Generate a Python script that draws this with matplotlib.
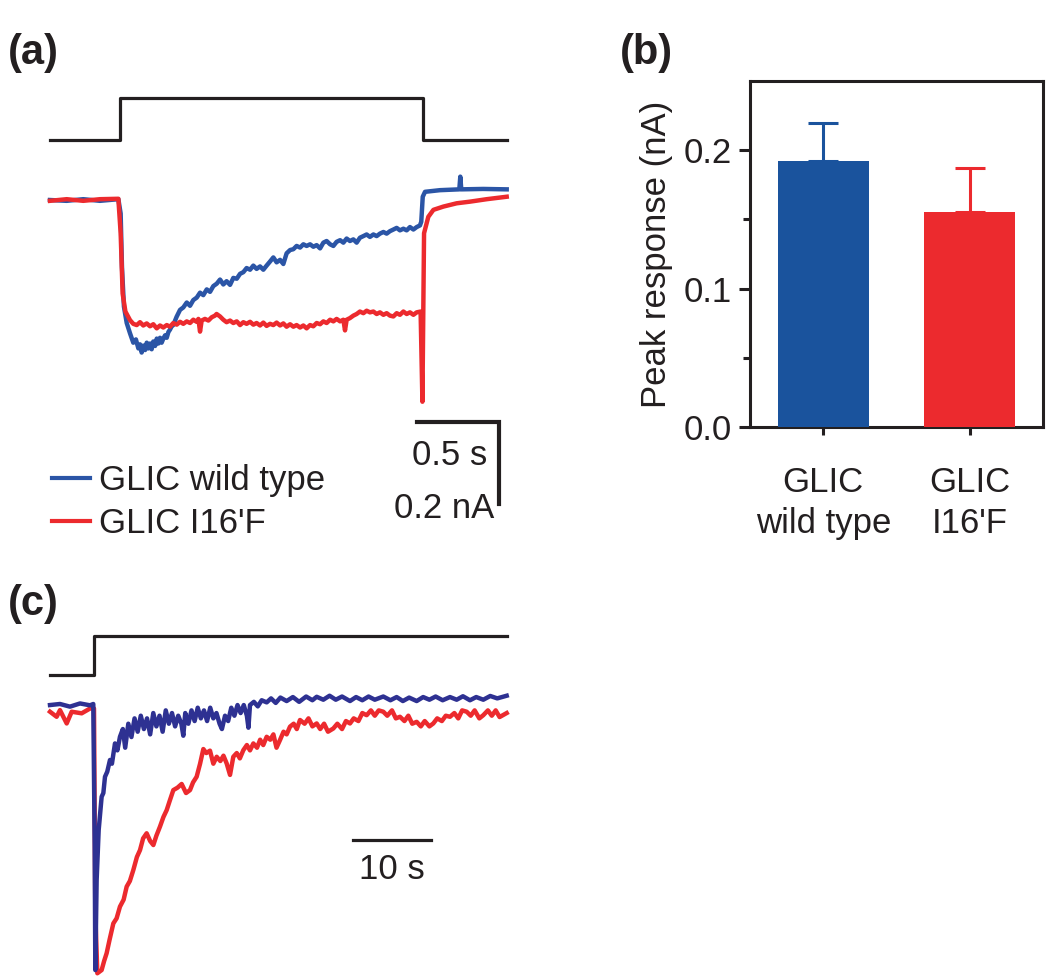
"""
GLIC wild type vs I16'F: current traces, peak bar chart, long application.
"""
import matplotlib
matplotlib.use("Agg")
import matplotlib.pyplot as plt

plt.rcParams['font.family'] = ['Liberation Sans', 'DejaVu Sans']

W, H = 1050, 977
INK = '#231f20'
BLUE_A = '#2b55a6'
BLUE_BAR = '#1a539d'
NAVY = '#2e3192'
RED = '#ec2a2e'
FS = 25

# ---- panel (a): pulse, currents in nA ----
stim_a_t = [-0.427, 0.0, 1.846, 2.358]
stim_a_lvl = [0, 1, 0, 0]

wt_a_t = [-0.427, -0.325, -0.224, -0.122, -0.010, 0.004, 0.012, 0.024, 0.041, 0.061,
          0.081, 0.097, 0.112, 0.122, 0.132, 0.142, 0.153, 0.163, 0.173, 0.183,
          0.193, 0.203, 0.214, 0.224, 0.234, 0.244, 0.254, 0.264, 0.275, 0.285,
          0.295, 0.305, 0.315, 0.325, 0.345, 0.366, 0.386, 0.407, 0.427, 0.447,
          0.468, 0.488, 0.508, 0.529, 0.549, 0.569, 0.590, 0.610, 0.630, 0.650,
          0.671, 0.691, 0.712, 0.732, 0.752, 0.772, 0.793, 0.813, 0.833, 0.854,
          0.874, 0.894, 0.915, 0.935, 0.955, 0.976, 0.996, 1.016, 1.037, 1.057,
          1.077, 1.098, 1.118, 1.138, 1.159, 1.179, 1.199, 1.220, 1.240, 1.260,
          1.281, 1.301, 1.321, 1.342, 1.362, 1.382, 1.402, 1.423, 1.443, 1.463,
          1.484, 1.504, 1.524, 1.545, 1.565, 1.585, 1.606, 1.626, 1.646, 1.667,
          1.687, 1.707, 1.728, 1.748, 1.768, 1.789, 1.809, 1.829, 1.837, 1.846,
          1.860, 1.951, 2.069, 2.075, 2.081, 2.215, 2.358]
wt_a_i = [0.000, -0.002, 0.002, -0.002, 0.002, -0.033, -0.163, -0.260, -0.300, -0.325,
          -0.348, -0.340, -0.362, -0.352, -0.372, -0.355, -0.366, -0.348, -0.362, -0.350,
          -0.364, -0.345, -0.356, -0.338, -0.350, -0.336, -0.348, -0.338, -0.330, -0.336,
          -0.322, -0.316, -0.308, -0.305, -0.285, -0.268, -0.262, -0.250, -0.258, -0.244,
          -0.238, -0.226, -0.232, -0.218, -0.224, -0.210, -0.204, -0.194, -0.206, -0.198,
          -0.207, -0.190, -0.192, -0.180, -0.176, -0.166, -0.170, -0.160, -0.168, -0.162,
          -0.170, -0.160, -0.150, -0.140, -0.152, -0.146, -0.156, -0.130, -0.122, -0.120,
          -0.112, -0.116, -0.108, -0.112, -0.108, -0.114, -0.110, -0.118, -0.104, -0.100,
          -0.108, -0.112, -0.102, -0.098, -0.104, -0.094, -0.100, -0.096, -0.104, -0.092,
          -0.088, -0.084, -0.090, -0.084, -0.088, -0.082, -0.078, -0.082, -0.076, -0.072,
          -0.068, -0.074, -0.070, -0.074, -0.066, -0.072, -0.066, -0.062, -0.053, 0.008,
          0.020, 0.024, 0.026, 0.057, 0.026, 0.027, 0.026]

mut_a_t = [-0.427, -0.325, -0.224, -0.122, -0.010, 0.004, 0.016, 0.033, 0.061, 0.081,
           0.102, 0.122, 0.142, 0.163, 0.183, 0.203, 0.224, 0.244, 0.264, 0.285,
           0.305, 0.325, 0.346, 0.366, 0.386, 0.407, 0.427, 0.447, 0.467, 0.478,
           0.488, 0.498, 0.518, 0.539, 0.559, 0.579, 0.589, 0.610, 0.630, 0.650,
           0.671, 0.691, 0.712, 0.732, 0.752, 0.772, 0.793, 0.813, 0.833, 0.854,
           0.874, 0.894, 0.915, 0.935, 0.955, 0.976, 0.996, 1.016, 1.037, 1.057,
           1.077, 1.098, 1.118, 1.138, 1.159, 1.179, 1.199, 1.220, 1.240, 1.260,
           1.281, 1.301, 1.321, 1.342, 1.362, 1.372, 1.382, 1.402, 1.423, 1.443,
           1.463, 1.484, 1.504, 1.524, 1.545, 1.565, 1.585, 1.606, 1.626, 1.646,
           1.667, 1.687, 1.707, 1.728, 1.748, 1.768, 1.789, 1.809, 1.833, 1.844,
           1.854, 1.880, 1.911, 1.972, 2.053, 2.134, 2.236, 2.358]
mut_a_i = [-0.002, 0.002, -0.002, 0.002, 0.003, -0.081, -0.228, -0.272, -0.293, -0.302,
           -0.305, -0.298, -0.306, -0.301, -0.308, -0.303, -0.313, -0.306, -0.311, -0.305,
           -0.309, -0.300, -0.304, -0.297, -0.302, -0.296, -0.300, -0.292, -0.297, -0.290,
           -0.321, -0.294, -0.290, -0.294, -0.286, -0.282, -0.278, -0.284, -0.292, -0.298,
           -0.294, -0.300, -0.296, -0.305, -0.298, -0.302, -0.297, -0.304, -0.300, -0.306,
           -0.299, -0.307, -0.302, -0.305, -0.299, -0.306, -0.301, -0.309, -0.303, -0.309,
           -0.305, -0.311, -0.306, -0.313, -0.305, -0.308, -0.300, -0.303, -0.296, -0.300,
           -0.292, -0.296, -0.290, -0.296, -0.292, -0.318, -0.292, -0.288, -0.282, -0.278,
           -0.272, -0.276, -0.270, -0.274, -0.272, -0.278, -0.274, -0.280, -0.276, -0.282,
           -0.284, -0.276, -0.280, -0.272, -0.278, -0.274, -0.280, -0.274, -0.272, -0.492,
           -0.081, -0.041, -0.024, -0.016, -0.008, -0.004, 0.002, 0.008]

# ---- panel (b): peak response ----
groups = ['GLIC\nwild type', "GLIC\nI16'F"]
peak_mean = [0.192, 0.155]
peak_sem = [0.0275, 0.032]

# ---- panel (c): long application, normalised current ----
stim_c_t = [-5.64, 0.0, 52.95]
stim_c_lvl = [0, 1, 1]

wt_c_t = [-5.64, -4.36, -3.08, -1.79, -0.51, -0.09, 0.09, 0.17, 0.34, 0.60,
          0.98, 1.20, 1.41, 1.70, 2.05, 2.30, 2.69, 3.00, 3.33, 3.70,
          4.00, 4.40, 4.80, 5.20, 5.60, 6.00, 6.40, 6.80, 7.20, 7.60,
          8.00, 8.40, 8.80, 9.20, 9.60, 10.0, 10.4, 10.8, 11.2, 11.45,
          11.7, 12.1, 12.5, 12.9, 13.3, 13.7, 14.1, 14.5, 14.9, 15.3,
          15.7, 16.1, 16.4, 16.8, 17.2, 17.6, 18.0, 18.4, 18.8, 19.2,
          19.6, 19.8, 20.0, 20.5, 21.0, 21.5, 22.14, 22.7, 23.3, 23.9,
          24.7, 25.5, 26.3, 27.2, 28.0, 28.55, 29.4, 30.2, 31.0, 31.8,
          32.82, 33.6, 34.4, 35.2, 36.0, 37.09, 38.0, 38.8, 39.6, 40.4,
          41.37, 42.2, 43.0, 43.8, 44.7, 45.64, 46.5, 47.3, 48.2, 49.0,
          49.91, 50.8, 51.7, 52.91]
wt_c_i = [0.000, 0.004, -0.006, 0.006, -0.001, 0.004, -0.531, -0.994, -0.656, -0.469,
          -0.344, -0.330, -0.269, -0.250, -0.206, -0.220, -0.144, -0.170, -0.119, -0.090,
          -0.160, -0.070, -0.120, -0.050, -0.100, -0.040, -0.090, -0.050, -0.110, -0.030,
          -0.080, -0.040, -0.100, -0.020, -0.070, -0.030, -0.080, -0.040, -0.070, -0.115,
          -0.030, -0.070, -0.020, -0.060, -0.010, -0.050, -0.020, -0.060, -0.010, -0.050,
          -0.030, -0.070, -0.090, -0.040, -0.060, -0.010, -0.040, 0.000, -0.030, 0.000,
          -0.040, -0.085, 0.000, 0.012, -0.005, 0.018, 0.010, 0.025, 0.008, 0.028,
          0.015, 0.030, 0.012, 0.032, 0.018, 0.031, 0.020, 0.035, 0.020, 0.032,
          0.015, 0.030, 0.018, 0.032, 0.020, 0.032, 0.018, 0.030, 0.015, 0.028,
          0.015, 0.030, 0.020, 0.032, 0.018, 0.030, 0.020, 0.033, 0.018, 0.030,
          0.020, 0.034, 0.025, 0.035]

mut_c_t = [-5.64, -4.79, -4.36, -3.50, -2.86, -1.58, -0.51, 0.00, 0.17, 0.43,
           0.98, 1.30, 1.62, 2.00, 2.48, 2.90, 3.33, 3.80, 4.19, 4.60,
           5.04, 5.50, 5.90, 6.30, 6.75, 7.20, 7.61, 8.00, 8.46, 8.90,
           9.32, 9.70, 10.17, 10.7, 11.24, 11.8, 12.31, 12.7, 13.16, 13.6,
           14.02, 14.4, 14.87, 15.3, 15.73, 16.2, 16.6, 17.01, 17.44, 17.86,
           18.3, 18.7, 19.15, 19.6, 20.0, 20.43, 20.9, 21.3, 21.7, 22.14,
           22.6, 23.0, 23.4, 23.85, 24.3, 24.7, 25.13, 25.6, 26.0, 26.41,
           27.0, 27.5, 28.0, 28.55, 29.0, 29.5, 30.0, 30.68, 31.2, 31.8,
           32.3, 32.82, 33.3, 33.9, 34.4, 34.96, 35.5, 36.0, 36.5, 37.09,
           37.6, 38.2, 38.7, 39.23, 39.8, 40.3, 40.8, 41.37, 41.9, 42.4,
           43.0, 43.5, 44.0, 44.6, 45.1, 45.64, 46.2, 46.7, 47.2, 47.78,
           48.3, 48.8, 49.4, 49.91, 50.5, 51.0, 51.5, 52.0, 52.91]
mut_c_i = [-0.025, -0.044, -0.019, -0.069, -0.025, -0.031, -0.013, -0.013, -0.781, -1.006,
           -0.994, -0.960, -0.931, -0.880, -0.819, -0.800, -0.756, -0.730, -0.681, -0.660,
           -0.619, -0.570, -0.544, -0.500, -0.481, -0.510, -0.525, -0.490, -0.456, -0.420,
           -0.394, -0.360, -0.319, -0.310, -0.296, -0.330, -0.319, -0.290, -0.269, -0.220,
           -0.165, -0.180, -0.171, -0.220, -0.194, -0.210, -0.190, -0.219, -0.262, -0.194,
           -0.180, -0.200, -0.169, -0.150, -0.170, -0.144, -0.160, -0.130, -0.150, -0.119,
           -0.130, -0.110, -0.160, -0.131, -0.100, -0.110, -0.081, -0.070, -0.090, -0.056,
           -0.070, -0.050, -0.080, -0.069, -0.090, -0.070, -0.100, -0.088, -0.070, -0.090,
           -0.060, -0.069, -0.050, -0.060, -0.030, -0.038, -0.020, -0.040, -0.020, -0.025,
           -0.040, -0.020, -0.050, -0.044, -0.060, -0.040, -0.070, -0.063, -0.080, -0.060,
           -0.080, -0.069, -0.050, -0.060, -0.040, -0.044, -0.030, -0.050, -0.020, -0.025,
           -0.040, -0.020, -0.050, -0.038, -0.020, -0.040, -0.020, -0.045, -0.030]


def px_rect(x0, y0, x1, y1):
    # pixel box (top-left origin) -> figure fraction rect
    return [x0 / W, 1 - y1 / H, (x1 - x0) / W, (y1 - y0) / H]


fig = plt.figure(figsize=(W / 100, H / 100), dpi=100)

# panel (a)
ax_a = fig.add_axes(px_rect(0, 80, 540, 560))
ax_a.set_xlim(-0.7317, 2.561)
ax_a.set_ylim(-0.878, 0.2927)
ax_a.axis('off')
ax_a.plot(wt_a_t, wt_a_i, color=BLUE_A, lw=3.2, label='GLIC wild type')
ax_a.plot(mut_a_t, mut_a_i, color=RED, lw=3.2, label="GLIC I16'F")
# scale bars 0.5 s / 0.2 nA
sx, sy = 1.811, -0.5415
ax_a.plot([sx, sx + 0.5, sx + 0.5], [sy, sy, sy - 0.2], color=INK, lw=3, solid_joinstyle='miter')
ax_a.text(sx + 0.2, sy - 0.105, '0.5 s', fontsize=FS, color=INK, ha='center', va='baseline')
ax_a.text(sx + 0.165, sy - 0.234, '0.2 nA', fontsize=FS, color=INK, ha='center', va='baseline')
leg = ax_a.legend(loc='upper left', bbox_to_anchor=(0.096, (560 - 464) / 480), frameon=False,
                  fontsize=FS, handlelength=1.1, handletextpad=0.25, labelspacing=0.3,
                  borderaxespad=0, borderpad=0)
for t in leg.get_texts():
    t.set_color(INK)
for h in leg.get_lines():
    h.set_linewidth(3)

ax_sa = fig.add_axes(px_rect(0, 80, 540, 160), sharex=ax_a)
ax_sa.set_ylim(-0.476, 1.4286)
ax_sa.axis('off')
ax_sa.plot(stim_a_t, stim_a_lvl, drawstyle='steps-post', color=INK, lw=2.3)

# panel (b)
ax_b = fig.add_axes(px_rect(750, 81, 1043, 427))
cols = [BLUE_BAR, RED]
xs = range(len(groups))
ax_b.bar(xs, peak_mean, width=0.62, color=cols, zorder=3)
for x, m, e, c in zip(xs, peak_mean, peak_sem, cols):
    ax_b.errorbar(x, m, yerr=[[0], [e]], fmt='none', ecolor=c, elinewidth=2.2,
                  capsize=10.5, capthick=2.2, zorder=2)
ax_b.set_xlim(-0.5, 1.5)
ax_b.set_ylim(0, 0.25)
ax_b.set_yticks([0.0, 0.1, 0.2])
ax_b.set_yticklabels(['0.0', '0.1', '0.2'])
ax_b.set_yticks([0.05, 0.15], minor=True)
ax_b.set_xticks(list(xs))
ax_b.set_xticklabels(groups, linespacing=1.3)
for s in ax_b.spines.values():
    s.set_linewidth(2.2)
    s.set_color(INK)
ax_b.tick_params(axis='y', which='major', length=8, width=2.2, pad=5, labelsize=FS,
                 colors=INK, direction='out')
ax_b.tick_params(axis='y', which='minor', length=5, width=2.2, colors=INK, direction='out')
ax_b.tick_params(axis='x', length=6, width=2.2, pad=22, labelsize=FS, colors=INK, direction='out')
ax_b.set_ylabel('Peak response (nA)', fontsize=FS, color=INK, labelpad=8)

# panel (c)
ax_c = fig.add_axes(px_rect(0, 620, 540, 977))
ax_c.set_xlim(-12.05, 57.18)
ax_c.set_ylim(-1.02, 0.319)
ax_c.axis('off')
ax_c.plot(mut_c_t, mut_c_i, color=RED, lw=3.2)
ax_c.plot(wt_c_t, wt_c_i, color=NAVY, lw=3.2)
ax_c.plot([33.2, 43.2], [-0.506, -0.506], color=INK, lw=2.3)
ax_c.text(38.2, -0.651, '10 s', fontsize=FS, color=INK, ha='center', va='baseline')

ax_sc = fig.add_axes(px_rect(0, 620, 540, 700), sharex=ax_c)
ax_sc.set_ylim(-0.641, 1.41)
ax_sc.axis('off')
ax_sc.plot(stim_c_t, stim_c_lvl, drawstyle='steps-post', color=INK, lw=2.3)

# panel letters
for lbl, x, y in [('(a)', 8, 64), ('(b)', 620, 64), ('(c)', 8, 615)]:
    fig.text(x / W, 1 - y / H, lbl, fontsize=30, fontweight='bold', color=INK,
             ha='left', va='baseline')

fig.savefig('out.png', dpi=100)
